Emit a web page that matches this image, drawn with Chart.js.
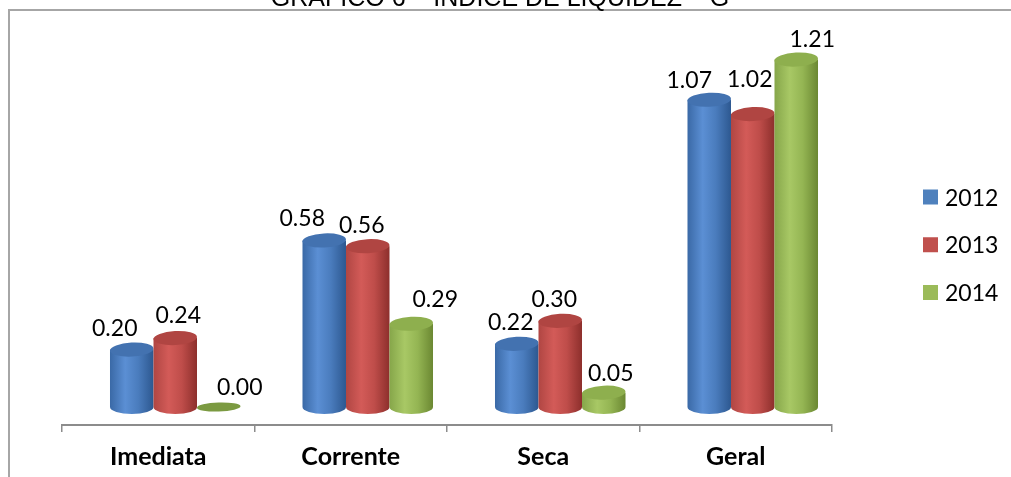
<!DOCTYPE html>
<html>
<head>
<meta charset="utf-8">
<script src="https://cdn.jsdelivr.net/npm/chart.js@4.4.0/dist/chart.umd.min.js"></script>
<style>
  html, body { margin: 0; padding: 0; background: #ffffff; overflow: hidden; }
  #wrap { position: relative; width: 1011px; height: 477px; }
</style>
</head>
<body>
<div id="wrap"><canvas id="chart" width="1011" height="477"></canvas></div>
<script>
// Liquidity ratios per year
const categories = ['Imediata', 'Corrente', 'Seca', 'Geral'];
const years = ['2012', '2013', '2014'];
const values2012 = [0.20, 0.58, 0.22, 1.07];
const values2013 = [0.24, 0.56, 0.30, 1.02];
const values2014 = [0.00, 0.29, 0.05, 1.21];
const chartTitle = 'GRÁFICO 6 – ÍNDICE DE LIQUIDEZ – G';

// Cylinder palettes: body gradient stops, top face, legend swatch
const palettes = [
  { stops: ['#3a69a6', '#5b8fd4', '#4a7cbd', '#2d5890'], top: '#4372b0', flat: '#3f6ca8', swatch: '#4f81bd' },
  { stops: ['#b04643', '#d35b58', '#bf4d4a', '#8d2f2c'], top: '#b04542', flat: '#a8403d', swatch: '#c0504d' },
  { stops: ['#86a64a', '#a8c865', '#94b553', '#6b8832'], top: '#8eaf4e', flat: '#7b9a41', swatch: '#9bbb59' }
];

// 3D depth shift of the columns relative to the category axis
const DEPTH_DX = 17;
const DEPTH_DY = -18;
const TOP_RY = 7;

// Data-label placement relative to each column top (dataset x category)
const labelShift = [
  [[-17, -22], [-22, -22], [-6, -22], [-20, -20]],
  [[3, -23], [-6, -21], [-6, -22], [-3, -35]],
  [[21, -20], [24, -25], [7, -20], [16, -21]]
];

function drawCylinder(ctx, cx, w, yTop, yBase, pal) {
  const rx = w / 2;
  if (yBase - yTop < 1) {
    ctx.beginPath();
    ctx.ellipse(cx, yBase, rx, 4.5, -0.03, 0, Math.PI * 2);
    ctx.fillStyle = pal.flat;
    ctx.fill();
    return;
  }
  const g = ctx.createLinearGradient(cx - rx, 0, cx + rx, 0);
  g.addColorStop(0, pal.stops[0]);
  g.addColorStop(0.35, pal.stops[1]);
  g.addColorStop(0.65, pal.stops[2]);
  g.addColorStop(1, pal.stops[3]);
  ctx.beginPath();
  ctx.moveTo(cx - rx, yTop);
  ctx.lineTo(cx - rx, yBase);
  ctx.ellipse(cx, yBase, rx, TOP_RY, 0, Math.PI, 0, true);
  ctx.lineTo(cx + rx, yTop);
  ctx.closePath();
  ctx.fillStyle = g;
  ctx.fill();
  ctx.beginPath();
  ctx.ellipse(cx, yTop, rx, TOP_RY, -0.05, 0, Math.PI * 2);
  ctx.fillStyle = pal.top;
  ctx.fill();
}

const cylinderPlugin = {
  id: 'cylinders',
  beforeDraw(chart) {
    const ctx = chart.ctx;
    ctx.save();
    // frame
    ctx.strokeStyle = '#a6a6a6';
    ctx.lineWidth = 2;
    ctx.beginPath();
    ctx.moveTo(9, 477);
    ctx.lineTo(9, 10);
    ctx.lineTo(1011, 10);
    ctx.stroke();
    // title
    ctx.fillStyle = '#000000';
    ctx.font = '25px "Liberation Sans", Arial, sans-serif';
    ctx.textAlign = 'center';
    ctx.textBaseline = 'alphabetic';
    ctx.fillText(chartTitle, 500, 6);
    ctx.restore();
  },
  beforeDatasetsDraw(chart) {
    const ctx = chart.ctx;
    const metas = chart.data.datasets.map((_, d) => chart.getDatasetMeta(d));
    ctx.save();
    for (let i = 0; i < categories.length; i++) {
      for (let d = 0; d < metas.length; d++) {
        const el = metas[d].data[i];
        const p = el.getProps(['x', 'y', 'base', 'width'], true);
        drawCylinder(ctx, p.x + DEPTH_DX, p.width, p.y + DEPTH_DY, p.base + DEPTH_DY, palettes[d]);
      }
    }
    // value labels
    ctx.fillStyle = '#000000';
    ctx.font = '23px Lato, "Open Sans", sans-serif';
    ctx.textAlign = 'center';
    ctx.textBaseline = 'alphabetic';
    for (let d = 0; d < metas.length; d++) {
      const vals = chart.data.datasets[d].data;
      for (let i = 0; i < categories.length; i++) {
        const p = metas[d].data[i].getProps(['x', 'y'], true);
        const s = labelShift[d][i];
        ctx.fillText(vals[i].toFixed(2), p.x + DEPTH_DX + s[0], p.y + DEPTH_DY + s[1] + 8);
      }
    }
    // legend
    const lx = 923, ly0 = 197, step = 47.75;
    chart.data.datasets.forEach((ds, d) => {
      const cy = ly0 + d * step;
      ctx.fillStyle = palettes[d].swatch;
      ctx.fillRect(lx, cy - 7.5, 15, 15);
      ctx.fillStyle = '#000000';
      ctx.textAlign = 'left';
      ctx.fillText(ds.label, lx + 22, cy + 8.5);
    });
    ctx.restore();
    return false;
  }
};

new Chart(document.getElementById('chart'), {
  type: 'bar',
  data: {
    labels: categories,
    datasets: [
      { label: years[0], data: values2012, backgroundColor: palettes[0].swatch },
      { label: years[1], data: values2013, backgroundColor: palettes[1].swatch },
      { label: years[2], data: values2014, backgroundColor: palettes[2].swatch }
    ]
  },
  options: {
    responsive: false,
    animation: false,
    events: [],
    categoryPercentage: 0.678,
    barPercentage: 1,
    layout: { padding: { left: 62, right: 179, top: 23, bottom: 0 } },
    plugins: {
      legend: { display: false },
      title: { display: false },
      tooltip: { enabled: false }
    },
    scales: {
      x: {
        grid: { offset: true, drawOnChartArea: false, drawTicks: true, tickLength: 7, color: '#8c8c8c', lineWidth: 1.5 },
        border: { color: '#8c8c8c', width: 2 },
        ticks: { color: '#000000', padding: 10, font: { family: 'Lato', size: 25, weight: 'bold' } },
        afterFit(scale) { scale.height = 52; }
      },
      y: {
        display: false,
        min: 0,
        max: 1.4
      }
    }
  },
  plugins: [cylinderPlugin]
});
</script>
</body>
</html>
